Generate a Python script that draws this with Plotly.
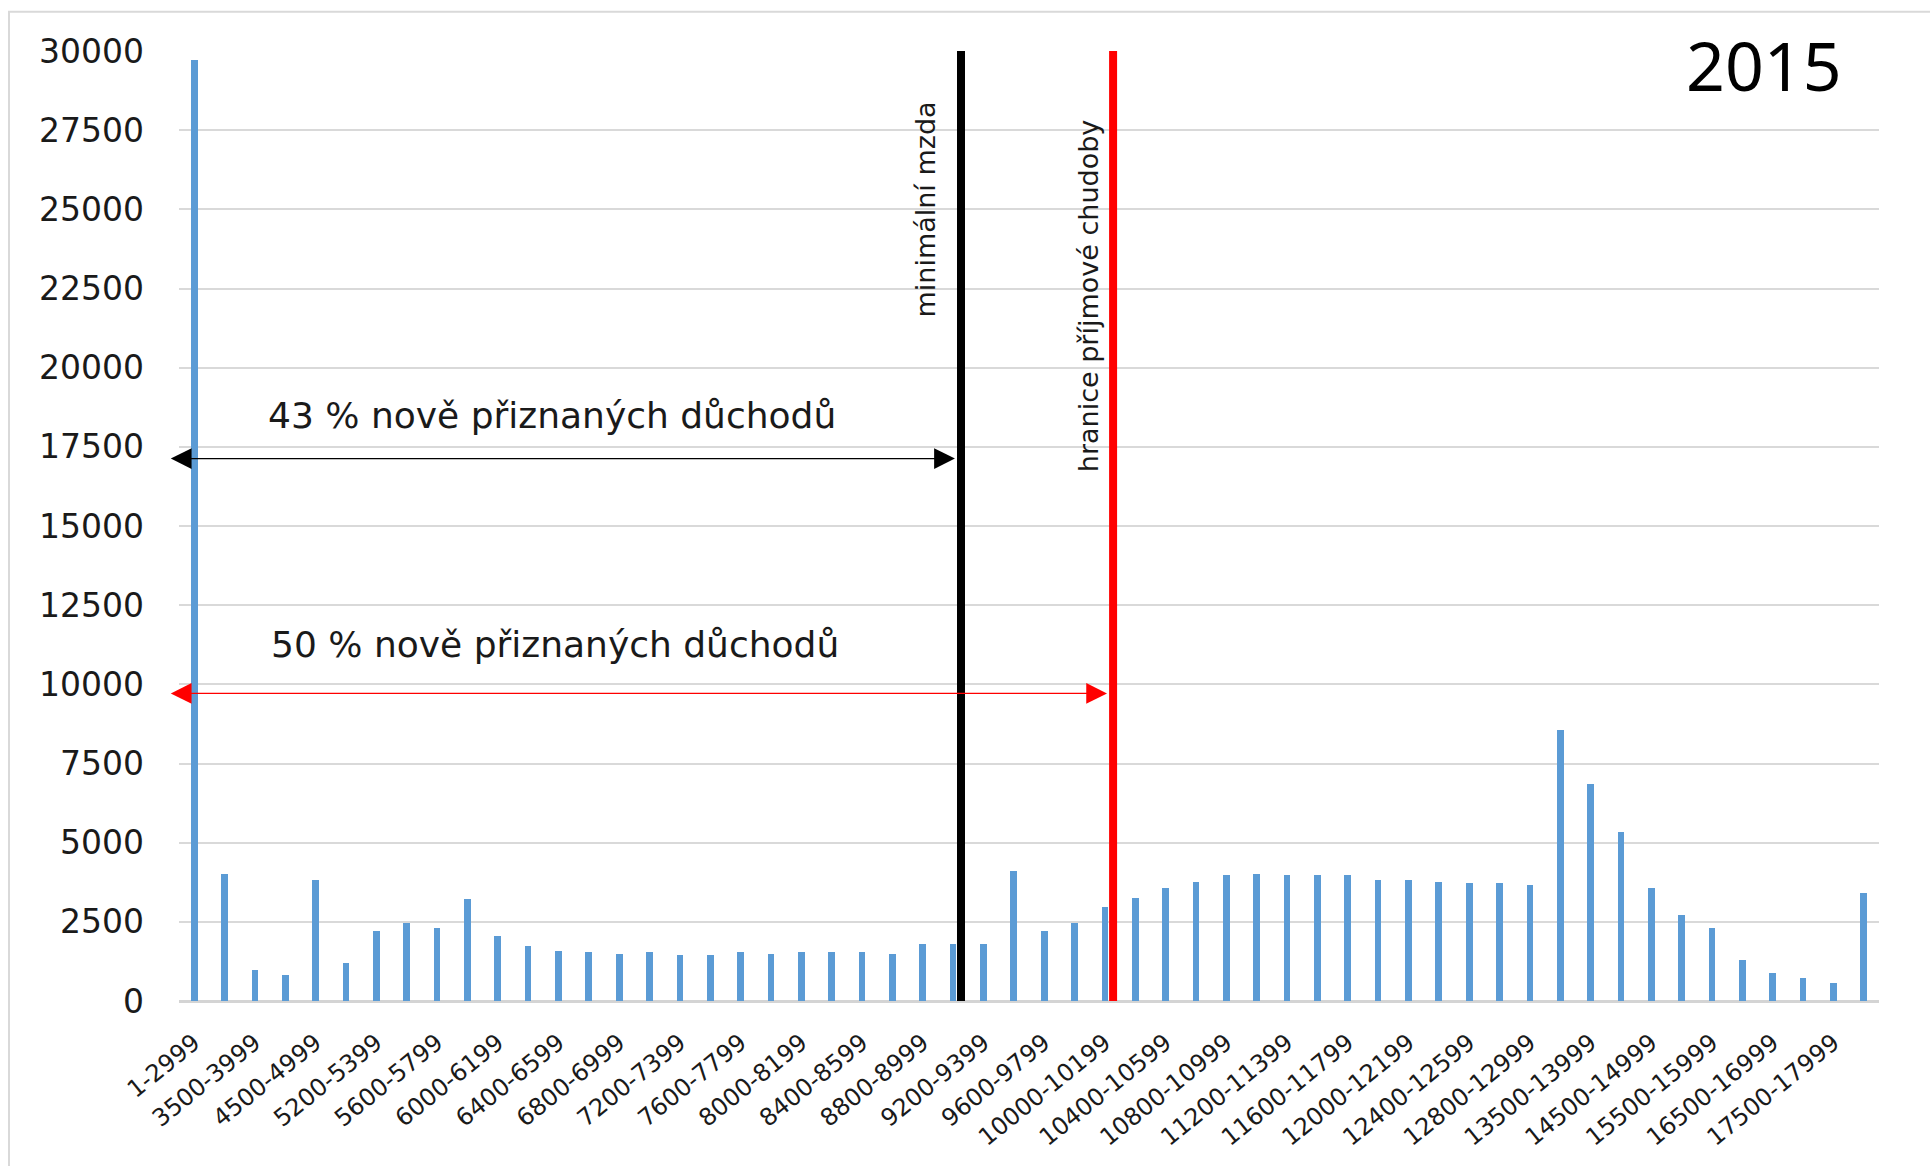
import plotly.graph_objects as go

# ---------------- data ----------------
categories = [
    "1-2999", "3000-3499", "3500-3999", "4000-4499", "4500-4999", "5000-5199",
    "5200-5399", "5400-5599", "5600-5799", "5800-5999", "6000-6199", "6200-6399",
    "6400-6599", "6600-6799", "6800-6999", "7000-7199", "7200-7399", "7400-7599",
    "7600-7799", "7800-7999", "8000-8199", "8200-8399", "8400-8599", "8600-8799",
    "8800-8999", "9000-9199", "9200-9399", "9400-9599", "9600-9799", "9800-9999",
    "10000-10199", "10200-10399", "10400-10599", "10600-10799", "10800-10999",
    "11000-11199", "11200-11399", "11400-11599", "11600-11799", "11800-11999",
    "12000-12199", "12200-12399", "12400-12599", "12600-12799", "12800-12999",
    "13000-13499", "13500-13999", "14000-14499", "14500-14999", "15000-15499",
    "15500-15999", "16000-16499", "16500-16999", "17000-17499", "17500-17999",
    "18000+",
]
counts = [
    29725, 4010, 980, 820, 3820, 1210, 2210, 2460, 2300, 3220, 2050, 1740,
    1580, 1550, 1480, 1550, 1450, 1450, 1550, 1480, 1550, 1550, 1550, 1480,
    1800, 1800, 1800, 4100, 2210, 2460, 2970, 3250, 3570, 3760, 3980,
    4010, 3980, 3980, 3980, 3820, 3820, 3760, 3720, 3720, 3660,
    8550, 6850, 5340, 3570, 2720, 2300, 1290, 880, 730, 570, 3410,
]
y_ticks = [0, 2500, 5000, 7500, 10000, 12500, 15000, 17500, 20000, 22500, 25000, 27500, 30000]

# reference markers (category-index units)
min_wage_pos = 25.26
poverty_pos = 30.27
arrow_left = -0.82
arrow43_right, arrow43_y = 25.06, 17130
arrow50_right, arrow50_y = 30.07, 9713

idx = list(range(len(categories)))
tick_idx = idx[::2]
tick_txt = [categories[i] for i in tick_idx]

FONT = "DejaVu Sans"
TXT = "#1a1a1a"

fig = go.Figure()
fig.add_trace(go.Bar(
    x=idx, y=counts, width=0.22,
    marker=dict(color="#5b9bd5", line=dict(width=0)),
    hoverinfo="skip",
))

fig.update_layout(
    width=1930, height=1166,
    margin=dict(l=179, r=51, t=51, b=165, pad=0),
    paper_bgcolor="white", plot_bgcolor="white",
    showlegend=False,
    bargap=0,
    xaxis=dict(
        range=[-0.5, 55.5], tickmode="array", tickvals=tick_idx, ticktext=tick_txt,
        tickangle=-39, tickfont=dict(family=FONT, size=24, color=TXT),
        showgrid=False, zeroline=False, showline=False, ticks="",
        ticklabelstandoff=22,
    ),
    yaxis=dict(
        range=[0, 30000], tickmode="array", tickvals=y_ticks,
        ticktext=[str(v) for v in y_ticks],
        tickfont=dict(family=FONT, size=33, color=TXT),
        showgrid=True, gridcolor="#d9d9d9", gridwidth=1.5,
        zeroline=True, zerolinecolor="#d4d4d4", zerolinewidth=3,
        showline=False, ticks="", ticklabelstandoff=34,
    ),
)

shapes = [
    dict(type="rect", xref="paper", yref="paper", x0=-0.1, x1=1.1, y0=-0.2, y1=1.0414,
         line=dict(color="#d9d9d9", width=2), fillcolor="rgba(0,0,0,0)", layer="below"),
    dict(type="line", xref="x", yref="y", x0=min_wage_pos, x1=min_wage_pos, y0=0, y1=30000,
         line=dict(color="black", width=8), layer="above"),
    dict(type="line", xref="x", yref="y", x0=poverty_pos, x1=poverty_pos, y0=0, y1=30000,
         line=dict(color="#ff0000", width=8), layer="above"),
]
fig.update_layout(shapes=shapes)

ann = [
    dict(x=arrow43_right, y=arrow43_y, ax=arrow_left, ay=arrow43_y, xref="x", yref="y",
         axref="x", ayref="y", text="", showarrow=True, arrowside="end+start",
         arrowhead=2, startarrowhead=2, arrowsize=3.2, startarrowsize=3.2,
         arrowwidth=1.3, arrowcolor="black", standoff=0, startstandoff=0),
    dict(x=arrow50_right, y=arrow50_y, ax=arrow_left, ay=arrow50_y, xref="x", yref="y",
         axref="x", ayref="y", text="", showarrow=True, arrowside="end+start",
         arrowhead=2, startarrowhead=2, arrowsize=3.2, startarrowsize=3.2,
         arrowwidth=1.3, arrowcolor="#ff0000", standoff=0, startstandoff=0),
    dict(x=11.8, y=18500, xref="x", yref="y", text="43 % nově přiznaných důchodů",
         showarrow=False, font=dict(family=FONT, size=36, color=TXT)),
    dict(x=11.87, y=11270, xref="x", yref="y", text="50 % nově přiznaných důchodů",
         showarrow=False, font=dict(family=FONT, size=36, color=TXT)),
    dict(x=24.08, y=25000, xref="x", yref="y", text="minimální mzda", textangle=-90,
         showarrow=False, font=dict(family=FONT, size=27, color=TXT)),
    dict(x=29.44, y=22285, xref="x", yref="y", text="hranice příjmové chudoby", textangle=-90,
         showarrow=False, font=dict(family=FONT, size=27, color=TXT)),
    dict(x=51.7, y=29577, xref="x", yref="y", text="2015",
         showarrow=False, font=dict(family="Noto Sans", size=68, color="black")),
]
fig.update_layout(annotations=ann)

fig.write_html("out.html", config={"displayModeBar": False},
               post_script="document.body.style.margin='0px';")
